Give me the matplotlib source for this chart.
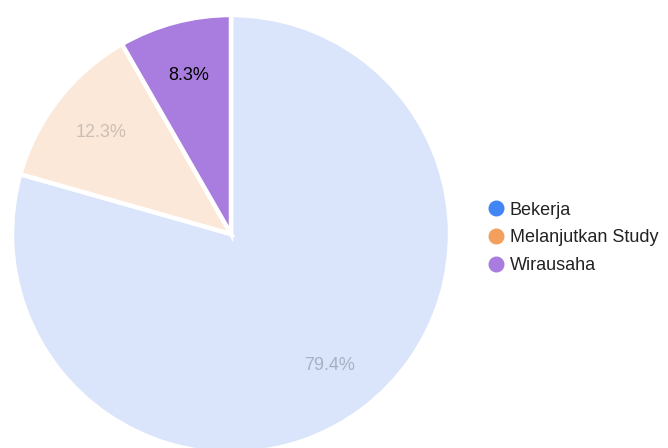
import matplotlib.pyplot as plt
from matplotlib.lines import Line2D

plt.rcParams["font.family"] = ["Liberation Sans", "DejaVu Sans"]

labels = ["Bekerja", "Melanjutkan Study", "Wirausaha"]
values = [79.4, 12.3, 8.3]
slice_colors = ["#dae5fb", "#fce8d9", "#a97de0"]
legend_colors = ["#4285f4", "#f4a05c", "#a97de0"]
pct_colors = ["#a8b0c2", "#cbbfb5", "#000000"]

fig = plt.figure(figsize=(6.68, 4.48), dpi=100)
ax = fig.add_axes([12 / 668, -5 / 448, 438 / 668, 438 / 448])

wedges, texts, autotexts = ax.pie(
    values,
    colors=slice_colors,
    startangle=90,
    counterclock=False,
    autopct="%.1f%%",
    pctdistance=0.75,
    radius=1,
    wedgeprops={"edgecolor": "white", "linewidth": 3.2},
    textprops={"fontsize": 13},
)
for t, c in zip(autotexts, pct_colors):
    t.set_color(c)
ax.set_xlim(-1, 1)
ax.set_ylim(-1, 1)
ax.set_aspect("equal")

handles = [
    Line2D([], [], marker="o", linestyle="", markersize=10.5,
           markerfacecolor=c, markeredgecolor=c)
    for c in legend_colors
]
fig.legend(
    handles, labels,
    loc="center left",
    bbox_to_anchor=(469 / 668, 1 - 238 / 448),
    frameon=False,
    fontsize=13,
    handletextpad=0.15,
    labelspacing=0.6,
    handlelength=1.2,
    labelcolor="#222222",
)

fig.savefig("out.png", dpi=100)
